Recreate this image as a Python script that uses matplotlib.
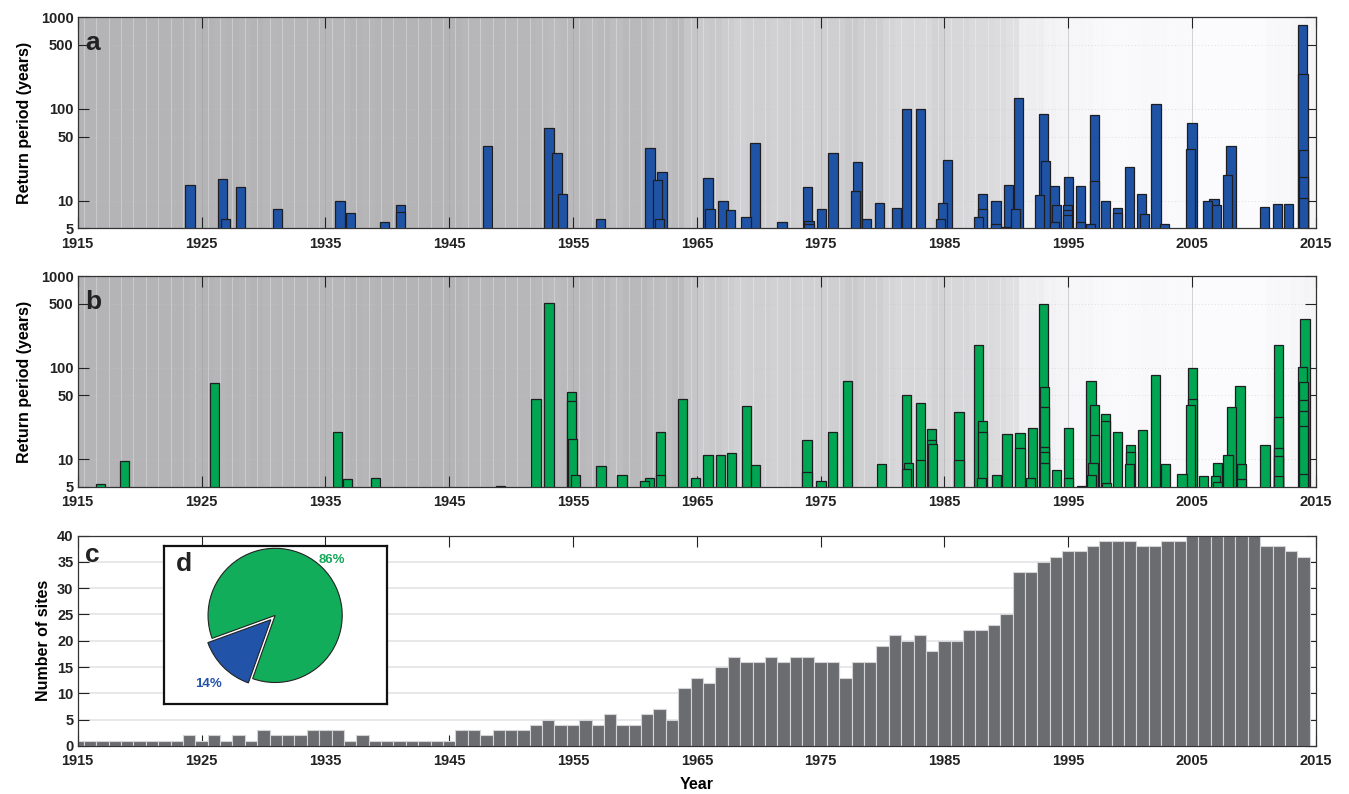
import numpy as np
import matplotlib
matplotlib.use("Agg")
import matplotlib.pyplot as plt
import matplotlib.font_manager as fm

# ---------------- data ----------------
# Panel c: number of sites per year (1915 .. 2014)
site_years = list(range(1915, 2015))
site_counts = [1, 1, 1, 1, 1, 1, 1, 1, 1, 2,      # 1915-1924
               1, 2, 1, 2, 1, 3, 2, 2, 2, 3,      # 1925-1934
               3, 3, 1, 2, 1, 1, 1, 1, 1, 1,      # 1935-1944
               1, 3, 3, 2, 3, 3, 3, 4, 5, 4,      # 1945-1954
               4, 5, 4, 6, 4, 4, 6, 7, 5, 11,     # 1955-1964
               13, 12, 15, 17, 16, 16, 17, 16, 17, 17,   # 1965-1974
               16, 16, 13, 16, 16, 19, 21, 20, 21, 18,   # 1975-1984
               20, 20, 22, 22, 23, 25, 33, 33, 35, 36,   # 1985-1994
               37, 37, 38, 39, 39, 39, 38, 38, 39, 39,   # 1995-2004
               40, 40, 40, 40, 40, 40, 38, 38, 37, 36]   # 2005-2014

# Panel a: event dates (decimal year) and return periods (years)
a_dates = [1924.06, 1926.72, 1926.96, 1928.17,
           1931.13, 1936.18, 1937.04, 1939.76,
           1941.08, 1941.08, 1948.07,
           1953.06, 1953.71, 1954.14, 1957.20,
           1961.21, 1961.80, 1962.18, 1962.00, 1965.91, 1966.07, 1967.12, 1967.74, 1968.97, 1969.70,
           1971.88, 1973.92, 1974.05, 1974.05, 1975.05, 1975.99, 1977.84, 1977.98, 1978.73, 1979.75,
           1981.15, 1981.93, 1983.09, 1984.70, 1984.86, 1985.27, 1987.77, 1988.07, 1988.07, 1989.17,
           1989.17, 1989.94,
           1990.16, 1990.75, 1990.99, 1992.66, 1993.00, 1993.14, 1993.90, 1994.03, 1993.90, 1995.00,
           1994.95, 1994.95, 1994.95, 1995.97, 1995.97, 1997.09, 1997.09, 1996.80, 1998.01, 1998.95,
           1998.95, 1999.94,
           2000.91, 2001.15, 2002.09, 2002.77, 2004.84, 2005.00, 2006.24, 2006.77, 2006.94, 2007.85,
           2008.14,
           2010.83, 2011.88, 2012.77, 2013.92, 2013.95, 2014.00, 2014.00, 2014.00]
a_rp = [14.7, 17.1, 6.3, 14.1,
        8.1, 9.9, 7.3, 5.8,
        8.9, 7.5, 39,
        62, 33.5, 11.7, 6.3,
        38, 16.7, 20.4, 6.3, 17.7, 8.2, 9.9, 8.0, 6.7, 43,
        5.8, 14.2, 6.0, 5.6, 8.2, 33, 12.7, 26.5, 6.3, 9.4,
        8.4, 101, 99, 6.3, 9.4, 27.6, 6.7, 11.9, 8.1, 9.9,
        5.6, 5.2,
        14.7, 8.2, 133, 11.4, 88, 27.4, 14.4, 8.9, 5.9, 18.3,
        8.9, 7.9, 7.0, 14.4, 5.8, 85, 16.3, 5.6, 10.0, 8.3,
        7.3, 23.3,
        11.7, 7.1, 113, 5.5, 37, 70.5, 9.8, 10.4, 8.9, 19.1,
        39.6,
        8.6, 9.1, 9.2, 834, 241, 36, 18.3, 10.8]

# Panel b: event dates (decimal year) and return periods (years)
b_dates = [1916.83, 1918.79, 1926.05, 1935.97, 1936.78, 1939.03, 1949.14,
           1952.01, 1953.06, 1954.89, 1954.89, 1954.95, 1955.18, 1957.25, 1958.95,
           1960.80, 1961.18, 1962.04, 1962.04, 1963.85, 1964.92, 1965.91, 1966.90, 1967.79, 1969.04,
           1969.73,
           1973.90, 1973.90, 1975.02, 1975.97, 1977.17, 1979.94,
           1981.93, 1981.93, 1982.10, 1983.06, 1983.06, 1983.98, 1983.98, 1984.05, 1986.18, 1986.18,
           1987.77, 1988.07, 1988.07, 1988.00, 1989.18,
           1990.04, 1991.11, 1991.11, 1991.95, 1992.10, 1993.00, 1993.10, 1993.10, 1993.10, 1993.10,
           1993.10, 1994.06, 1995.03, 1995.03, 1996.10, 1996.83, 1997.12, 1997.12, 1997.00, 1996.90,
           1997.98, 1997.98, 1998.10, 1998.95,
           2000.05, 2000.05, 1999.95, 2000.99, 2002.07, 2002.85, 2004.19, 2005.03, 2005.03, 2004.85,
           2005.90, 2006.87, 2007.06, 2007.06, 2007.90, 2008.19, 2008.87, 2009.00, 2009.00,
           2010.88, 2011.96, 2011.96, 2011.96, 2011.96, 2011.96, 2014.11, 2013.90, 2014.00, 2014.00,
           2014.00, 2014.00, 2014.00]
b_rp = [5.3, 9.5, 68, 19.7, 6.0, 6.3, 5.1,
        45, 508, 54, 43, 16.6, 6.7, 8.4, 6.7,
        5.8, 6.3, 19.7, 6.7, 46, 6.2, 11.0, 11.1, 11.6, 38,
        8.7,
        16.2, 7.2, 5.8, 20, 72, 8.9,
        50, 7.9, 9.2, 41.6, 9.8, 21.4, 16.1, 14.7, 32.8, 9.8,
        179, 26, 19.7, 6.3, 6.8,
        18.7, 19.3, 13.1, 6.3, 22, 492, 61, 37, 13.5, 11.9,
        9.0, 7.7, 21.9, 6.2, 5.1, 71, 39.5, 18.3, 9.2, 6.7,
        31, 26, 5.5, 19.7,
        14.3, 11.9, 8.9, 20.7, 83, 8.8, 6.9, 99, 45.6, 39,
        6.5, 6.5, 9.1, 5.7, 11.0, 37, 63, 8.9, 6.0,
        14.3, 176, 28.7, 13.4, 10.9, 6.6, 345, 101, 70.6, 44,
        33.4, 23.3, 6.9]

# Panel d: share of events
pie_labels = ["14%", "86%"]
pie_shares = [14, 86]

x_ticks = list(range(1915, 2016, 10))
rp_ticks = [5, 10, 50, 100, 500, 1000]
site_ticks = list(range(0, 41, 5))

# ---------------- style ----------------
names = {f.name for f in fm.fontManager.ttflist}
FONT = "Liberation Sans Narrow" if "Liberation Sans Narrow" in names else "Liberation Sans"
plt.rcParams["font.family"] = [FONT, "DejaVu Sans"]
plt.rcParams["font.weight"] = "bold"

BLUE = "#1f53a6"
GREEN = "#00a651"
EDGE = "#1e1e22"
BARGRAY = "#6b6c70"

fig = plt.figure(figsize=(13.49, 7.94), dpi=100)
L, W = 0.0576, 0.9179
ax_a = fig.add_axes([L, 0.7125, W, 0.2657])
ax_b = fig.add_axes([L, 0.3870, W, 0.2650])
ax_c = fig.add_axes([L, 0.0605, W, 0.2650])


def shade(c):
    g = 0.705 + 0.28 * (c - 1) / 39.0
    return (g, g, min(1.0, g + 0.012))


def style_axis(ax):
    ax.tick_params(axis="both", which="major", direction="in", length=8, width=0.8,
                   top=True, right=True, labelsize=10.5, colors="#222222")
    ax.tick_params(axis="x", which="major", pad=6)
    ax.tick_params(axis="y", which="major", pad=3)
    ax.tick_params(axis="both", which="minor", length=0)
    for lab in ax.get_xticklabels() + ax.get_yticklabels():
        lab.set_fontweight("bold")
    for s in ax.spines.values():
        s.set_color("#333333")
        s.set_linewidth(0.9)


def event_panel(ax, dates, rps, color, letter):
    for y, c in zip(site_years, site_counts):
        ax.axvspan(y, y + 1, color=shade(c), lw=0, zorder=0)
        ax.axvline(y + 0.5, color="white", lw=0.7, alpha=0.3, zorder=0.5)
    ax.set_yscale("log")
    order = np.argsort(rps)[::-1]
    for k, i in enumerate(order):
        ax.bar(dates[i], rps[i] - 1, bottom=1, width=0.75, color=color,
               edgecolor=EDGE, linewidth=0.9, zorder=2 + k * 0.01)
    ax.set_xlim(1915, 2015)
    ax.set_ylim(5, 1000)
    ax.set_yticks(rp_ticks)
    ax.set_yticklabels([str(t) for t in rp_ticks])
    ax.set_xticks(x_ticks)
    ax.set_xticklabels([str(t) for t in x_ticks])
    for t in x_ticks[1:-1]:
        ax.axvline(t, color="#9c9c9e", lw=0.6, alpha=0.5, zorder=1)
    for t in [10, 50, 100, 500]:
        ax.axhline(t, color="#c8c8c8", lw=0.6, ls=(0, (1, 3)), alpha=0.7, zorder=1)
    ax.set_ylabel("Return period (years)", fontsize=11.5, fontweight="bold", labelpad=6)
    ax.text(0.006, 0.935, letter, transform=ax.transAxes, fontsize=19,
            fontweight="bold", va="top", ha="left", color="#222222", zorder=5,
            family=["Liberation Sans", "DejaVu Sans"])
    style_axis(ax)


event_panel(ax_a, a_dates, a_rp, BLUE, "a")
event_panel(ax_b, b_dates, b_rp, GREEN, "b")

# ---------------- panel c ----------------
ax_c.bar(site_years, site_counts, width=1.0, color=BARGRAY, edgecolor="#d4d4d6",
         linewidth=0.8, zorder=2)
for t in site_ticks[1:-1]:
    ax_c.axhline(t, color="#e2e2e4", lw=1.1, zorder=1)
ax_c.set_xlim(1915, 2015)
ax_c.set_ylim(0, 40)
ax_c.set_xticks(x_ticks)
ax_c.set_xticklabels([str(t) for t in x_ticks])
ax_c.set_yticks(site_ticks)
ax_c.set_yticklabels([str(t) for t in site_ticks])
ax_c.set_ylabel("Number of sites", fontsize=11.5, fontweight="bold", labelpad=4)
ax_c.set_xlabel("Year", fontsize=11.5, fontweight="bold", labelpad=6)
ax_c.text(0.006, 0.965, "c", transform=ax_c.transAxes, fontsize=19,
          fontweight="bold", va="top", ha="left", color="#222222", zorder=5,
          family=["Liberation Sans", "DejaVu Sans"])
style_axis(ax_c)

# ---------------- inset d ----------------
ax_d = fig.add_axes([0.1216, 0.1134, 0.1657, 0.1994])
ax_d.set_zorder(10)
wedges, _ = ax_d.pie(pie_shares, colors=["#2153a8", "#12ad5a"], startangle=200,
                     counterclock=True, explode=[0.09, 0.0], radius=1.0,
                     center=(0, 0),
                     wedgeprops=dict(edgecolor="#222222", linewidth=0.8))
ax_d.set_frame_on(True)
ax_d.patch.set_visible(True)
ax_d.set_facecolor("white")
ax_d.set_aspect("equal")
ax_d.set_xlim(-1.65, 1.67)
ax_d.set_ylim(-1.32, 1.04)
ax_d.set_xticks([])
ax_d.set_yticks([])
for s in ax_d.spines.values():
    s.set_visible(True)
    s.set_color("#111111")
    s.set_linewidth(1.6)
ax_d.text(-1.48, 0.95, "d", fontsize=19, fontweight="bold", va="top", ha="left",
          color="#222222", family=["Liberation Sans", "DejaVu Sans"])
ax_d.text(0.84, 0.82, pie_labels[1], fontsize=9.5, fontweight="bold", color="#15a85a",
          ha="center", va="center")
ax_d.text(-1.0, -1.02, pie_labels[0], fontsize=9.5, fontweight="bold", color="#2453a8",
          ha="center", va="center")

fig.savefig("out.png", dpi=100)
